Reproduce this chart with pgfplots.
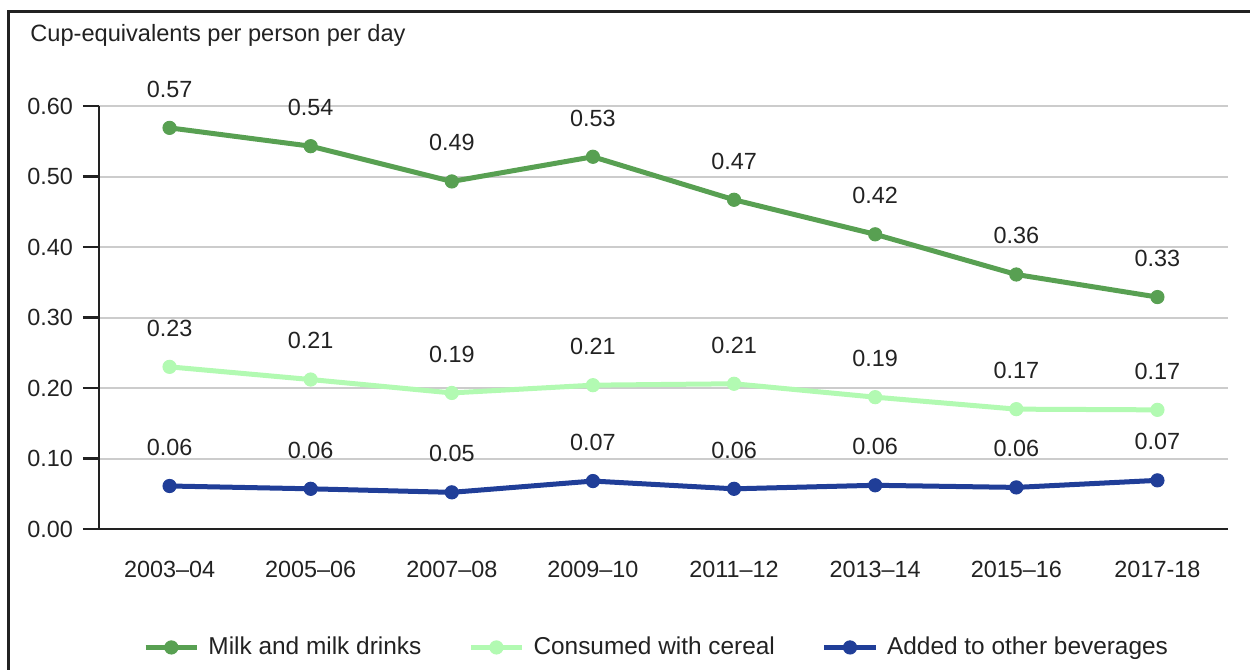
\documentclass[border=0pt]{standalone}
\usepackage{fontspec}
\setmainfont{Liberation Sans}
\usepackage{pgfplots}
\pgfplotsset{compat=1.18}
\definecolor{milkc}{RGB}{88,160,82}
\definecolor{cerealc}{RGB}{178,250,178}
\definecolor{bevc}{RGB}{32,62,152}
\definecolor{txt}{RGB}{34,34,34}
\begin{document}
\begin{tikzpicture}[x=1pt,y=1pt]
\useasboundingbox (0,0) rectangle (625,335);
\draw[line width=1.5pt, color=txt] (4,0) -- (4,329) -- (626,329);
\node[anchor=base west, inner sep=0pt, text=txt, font=\fontsize{11.8}{13}\selectfont] at (15,314) {Cup-equivalents per person per day};
\begin{axis}[
  at={(49.5pt,70.5pt)}, anchor=south west,
  scale only axis, width=564.5pt, height=211.5pt,
  xmin=-0.5, xmax=7.5, ymin=0, ymax=0.6,
  axis x line*=bottom, axis y line*=left,
  axis line style={line width=1.2pt, color=txt, -},
  xtick={0,1,2,3,4,5,6,7},
  xticklabels={2003--04,2005--06,2007--08,2009--10,2011--12,2013--14,2015--16,2017-18},
  major x tick style={draw=none},
  ytick={0,0.1,0.2,0.3,0.4,0.5,0.6},
  yticklabels={0.00,0.10,0.20,0.30,0.40,0.50,0.60},
  major y tick style={line width=1.2pt, color=txt},
  tick align=outside, major tick length=8pt,
  ymajorgrids, grid style={color=black!20, line width=1pt},
  tick label style={font=\fontsize{11.7}{13}\selectfont, text=txt},
  yticklabel style={xshift=-1.5pt},
  xticklabel style={yshift=-4.5pt},
  clip=false,
  every node near coord/.append style={anchor=south, inner sep=0pt, yshift=15pt, text=txt, font=\fontsize{11.7}{13}\selectfont},
  legend style={at={(0.497,-0.28)}, anchor=center, draw=none, fill=none, legend columns=3,
    font=\fontsize{12.2}{13}\selectfont, text=txt,
    nodes={inner xsep=4.5pt},
    /tikz/every even column/.append style={column sep=19pt}},
  legend cell align=left,
  legend image code/.code={\draw[mark repeat=2,mark phase=2] plot coordinates {(0cm,0cm) (0.45cm,0cm) (0.9cm,0cm)};},
]
\addplot[color=milkc, line width=2.5pt, mark=*, mark size=3.3pt, mark options={line width=0.5pt},
  nodes near coords, point meta=explicit symbolic] coordinates {
  (0,0.569)[0.57] (1,0.543)[0.54] (2,0.493)[0.49] (3,0.528)[0.53]
  (4,0.467)[0.47] (5,0.418)[0.42] (6,0.361)[0.36] (7,0.329)[0.33]};
\addlegendentry{Milk and milk drinks}
\addplot[color=cerealc, line width=2.5pt, mark=*, mark size=3.3pt, mark options={line width=0.5pt},
  nodes near coords, point meta=explicit symbolic] coordinates {
  (0,0.230)[0.23] (1,0.212)[0.21] (2,0.193)[0.19] (3,0.204)[0.21]
  (4,0.206)[0.21] (5,0.187)[0.19] (6,0.170)[0.17] (7,0.169)[0.17]};
\addlegendentry{Consumed with cereal}
\addplot[color=bevc, line width=2.5pt, mark=*, mark size=3.3pt, mark options={line width=0.5pt},
  nodes near coords, point meta=explicit symbolic] coordinates {
  (0,0.061)[0.06] (1,0.057)[0.06] (2,0.052)[0.05] (3,0.068)[0.07]
  (4,0.057)[0.06] (5,0.062)[0.06] (6,0.059)[0.06] (7,0.069)[0.07]};
\addlegendentry{Added to other beverages}
\end{axis}
\end{tikzpicture}
\end{document}
